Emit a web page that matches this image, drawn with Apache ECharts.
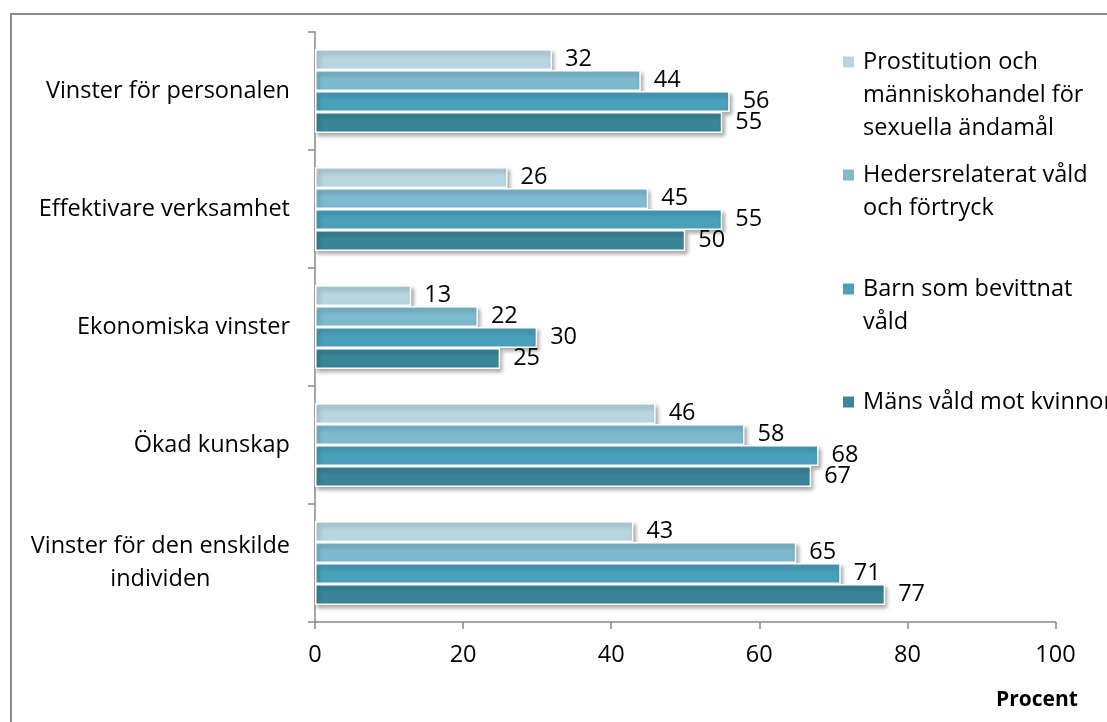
<!DOCTYPE html>
<html>
<head>
<meta charset="utf-8">
<script src="https://cdn.jsdelivr.net/npm/echarts@6/dist/echarts.min.js"></script>
<style>
html,body{margin:0;padding:0;background:#fff;}
#c{width:1107px;height:722px;}
</style>
</head>
<body>
<div id="c"></div>
<script>
const categories = [
  'Vinster för personalen',
  'Effektivare verksamhet',
  'Ekonomiska vinster',
  'Ökad kunskap',
  'Vinster för den enskilde\nindividen'
];
const seriesNames = [
  'Prostitution och\nmänniskohandel för\nsexuella ändamål',
  'Hedersrelaterat våld\noch förtryck',
  'Barn som bevittnat\nvåld',
  'Mäns våld mot kvinnor'
];
const prostitution = [32, 26, 13, 46, 43];
const hedersrelaterat = [44, 45, 22, 58, 65];
const barn = [56, 55, 30, 68, 71];
const mans = [55, 50, 25, 67, 77];
const xTicks = [0, 20, 40, 60, 80, 100];

const values = [prostitution, hedersrelaterat, barn, mans];
const colors = ['#b7d6e0', '#7db9cf', '#48a0ba', '#3a8598'];
const FONT = 'Open Sans';
const FS = 23.5;

const chart = echarts.init(document.getElementById('c'), null, {renderer: 'canvas'});

const legendCenters = [62, 175, 289, 402];
const LH = 33;
const legends = seriesNames.map((name, i) => {
  const n = name.split('\n').length;
  const h = (2 * n - 1) * LH;
  return {
    data: [name],
    orient: 'vertical',
    left: 841,
    top: legendCenters[i] - h / 2,
    padding: 0,
    itemWidth: 13,
    itemHeight: 13,
    icon: 'rect',
    formatter: nm => '\n'.repeat(n - 1) + nm,
    textStyle: {fontFamily: FONT, fontSize: FS, lineHeight: LH, color: '#000', padding: [0, 0, 0, 3]}
  };
});

chart.setOption({
  animation: false,
  textStyle: {fontFamily: FONT},
  graphic: [{
    type: 'rect',
    shape: {x: 11, y: 14, width: 1120, height: 730},
    style: {fill: 'none', stroke: '#8c8c8c', lineWidth: 2},
    silent: true
  }],
  title: {
    text: 'Procent',
    left: 996,
    top: 690,
    padding: 0,
    textStyle: {fontFamily: FONT, fontSize: 21, fontWeight: 'bold', color: '#000'}
  },
  legend: legends,
  grid: {left: 315, top: 32, width: 740.5, height: 590, containLabel: false},
  xAxis: {
    type: 'value',
    min: 0,
    max: 100,
    interval: 20,
    axisLine: {show: true, lineStyle: {color: '#888', width: 1.5}},
    axisTick: {show: true, length: 7, lineStyle: {color: '#888', width: 1.5}},
    splitLine: {show: false},
    axisLabel: {fontFamily: FONT, fontSize: FS, color: '#000', margin: 21,
      formatter: v => xTicks.includes(v) ? String(v) : ''}
  },
  yAxis: {
    type: 'category',
    inverse: true,
    data: categories,
    axisLine: {show: true, lineStyle: {color: '#888', width: 1.5}},
    axisTick: {show: true, length: 7, alignWithLabel: false, lineStyle: {color: '#888', width: 1.5}},
    axisLabel: {
      fontFamily: FONT, fontSize: FS, color: '#000', margin: 25, align: 'right',
      formatter: v => v.split('\n').map(l => '{c|' + l + '}').join('\n'),
      rich: {c: {align: 'center', fontFamily: FONT, fontSize: FS, lineHeight: 33, color: '#000'}}
    }
  },
  series: seriesNames.map((name, i) => ({
    name: name,
    type: 'bar',
    data: values[i],
    barGap: '0%',
    barCategoryGap: '29%',
    itemStyle: {
      color: colors[i],
      borderColor: '#fff',
      borderWidth: 1.5,
      shadowColor: 'rgba(0,0,0,0.35)',
      shadowBlur: 4,
      shadowOffsetX: 2,
      shadowOffsetY: 3
    },
    label: {
      show: true,
      position: 'right',
      distance: 13,
      fontFamily: FONT,
      fontSize: FS,
      color: '#000'
    }
  }))
});
</script>
</body>
</html>
